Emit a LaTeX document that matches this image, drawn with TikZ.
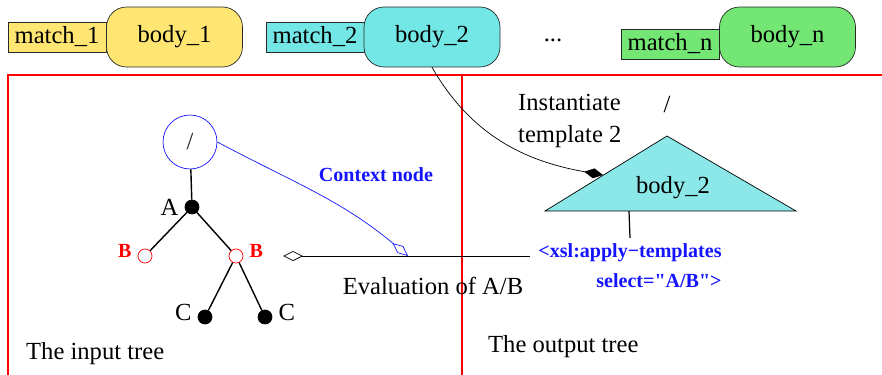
\documentclass[tikz,border=0pt]{standalone}
\usepackage{fontspec}
\setmainfont{Liberation Serif}
\usepackage{tikz}
\usetikzlibrary{arrows.meta}
\definecolor{tplyellow}{RGB}{255,230,115}
\definecolor{tplcyan}{RGB}{115,230,230}
\definecolor{tplgreen}{RGB}{115,230,115}
\definecolor{tricyan}{RGB}{140,232,232}
\definecolor{edgegray}{RGB}{40,40,40}
\definecolor{ctxblue}{RGB}{20,20,255}
\tikzset{
    match/.style={rectangle,draw=edgegray,minimum width=1.96cm,minimum height=0.6cm,inner sep=0pt},
    body/.style={rectangle,rounded corners=0.4cm,draw=edgegray,minimum width=2.72cm,minimum height=1.2cm,inner sep=0pt},
    filled/.style={circle,draw,fill,minimum size=0.28cm,inner sep=0pt},
    hollow/.style={circle,draw=red,minimum size=0.28cm,inner sep=0pt},
    blabel/.style={text=red,font=\fontsize{11.4}{14}\selectfont\bfseries,yshift=0.1cm},
    tree/.style={line width=0.8pt},
    every label/.append style={black}
}

\begin{document}
\begin{tikzpicture}[x=0.02cm,y=-0.02cm,font=\fontsize{14}{17}\selectfont]
    \useasboundingbox (0,0) rectangle (882,375);
    % frame
    \draw[red,line width=0.7pt] (882,75) -- (8,75) -- (8,375);
    \draw[red,line width=0.7pt] (462,75) -- (462,375);
    % templates
    \node[match,fill=tplyellow] (match1) at (57,37) {match\_1};
    \node[body,fill=tplyellow] (body1) at (174.5,37) {body\_1};
    \node[match,fill=tplcyan] (match2) at (315,37) {match\_2};
    \node[body,fill=tplcyan] (body2) at (432,37) {body\_2};
    \node (dots) at (553,40) {...};
    \node[match,fill=tplgreen] (matchn) at (670,44) {match\_n};
    \node[body,fill=tplgreen] (bodyn) at (787.5,37) {body\_n};
    % input tree
    \node[circle,draw=ctxblue,minimum size=1.08cm,inner sep=0pt,text=edgegray] (root) at (190,142) {/};
    \node[filled,label={[text=black]left:A}] (A) at (192,207) {};
    \node[hollow,label={[blabel]left:B}] (B1) at (145,256) {};
    \node[hollow,label={[blabel]right:B}] (B2) at (236,256) {};
    \node[filled,label={[yshift=0.1cm]left:C}] (C1) at (205,317) {};
    \node[filled,label={[yshift=0.1cm]right:C}] (C2) at (265,317) {};
    \draw[tree] (root) -- (A);
    \draw[tree] (A) -- (B1);
    \draw[tree] (A) -- (B2);
    \draw[tree] (B2) -- (C1);
    \draw[tree] (B2) -- (C2);
    \node[text=ctxblue,font=\fontsize{11.4}{14}\selectfont\bfseries] (ctx) at (376,175) {Context node};
    % output tree
    \coordinate (tapex) at (667,136);
    \coordinate (tleft) at (545,211);
    \coordinate (tright) at (796,211);
    \coordinate (tedge) at (603,175);
    \coordinate (tbase) at (629,211);
    \draw[fill=tricyan] (tapex) -- (tleft) -- (tright) -- cycle;
    \node (outbody) at (673,188) {body\_2};
    \node (outroot) at (667,105) {/};
    \node[anchor=west,align=left,font=\fontsize{14}{18}\selectfont] (inst) at (512,121) {Instantiate\\template 2};
    \node[text=ctxblue,align=right,font=\fontsize{11.4}{17}\selectfont\bfseries] (apply) at (630,266)
        {<xsl:apply−templates\\select=\textquotedbl A/B\textquotedbl>};
    \draw[line width=0.7pt] (tbase) -- (apply.north);
    \draw[-{Diamond[length=0.38cm,width=0.2cm]}] (body2.south) to[out=-60,in=170] (tedge);
    % evaluation
    \coordinate (evalstart) at (530,256);
    \coordinate (evalend) at (283,256);
    \coordinate (ctxend) at (408,256);
    \draw[-{Diamond[open,length=0.4cm,width=0.2cm]}] (evalstart) -- (evalend);
    \draw[ctxblue,-{Diamond[open,length=0.4cm,width=0.18cm]}] (root.east) to[out=-28,in=140] (ctxend);
    \node (eval) at (433,286) {Evaluation of A/B};
    \node[anchor=west] (intree) at (20,354) {The input tree};
    \node[anchor=west] (outtree) at (482,347) {The output tree};
\end{tikzpicture}
\end{document}
